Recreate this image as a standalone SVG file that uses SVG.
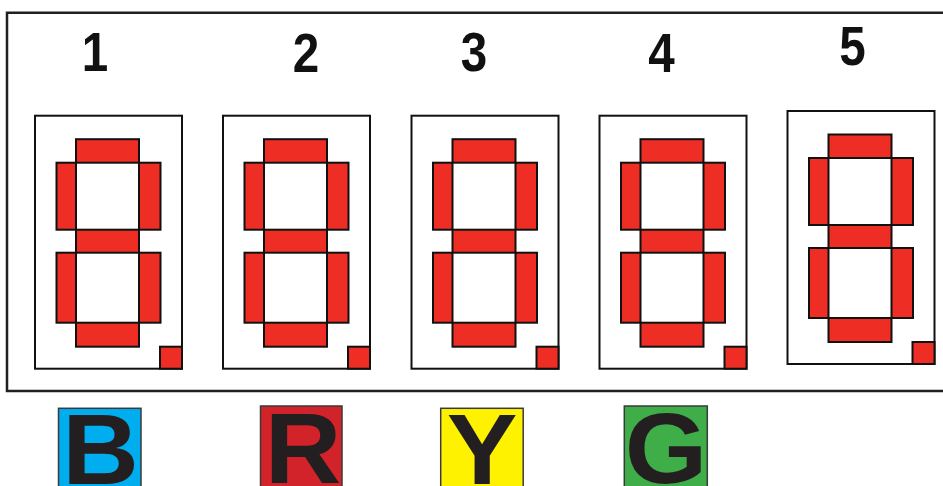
<svg xmlns="http://www.w3.org/2000/svg" xmlns:xlink="http://www.w3.org/1999/xlink" width="943" height="486" viewBox="0 0 943 486">
  <style>
    .frame { fill: none; stroke: #231f20; stroke-width: 2.5; }
    .box { fill: #ffffff; stroke: #111111; stroke-width: 2; }
    .seg { fill: #ee2e24; stroke: #111111; stroke-width: 2; }
    .num { font-family: "Liberation Sans", Arial, sans-serif; font-weight: bold; font-size: 56px; fill: #111111; text-anchor: middle; }
    .tag { stroke: #3a3a3a; stroke-width: 1.5; }
    .letter { font-family: "Liberation Sans", Arial, sans-serif; font-weight: bold; font-size: 101px; fill: #231f20; text-anchor: middle; }
  </style>
  <defs>
    <g id="display">
      <rect class="box" x="0" y="0" width="147" height="253"/>
      <rect class="seg" x="41" y="23.5" width="63" height="23.5"/>
      <rect class="seg" x="21.5" y="47" width="19.5" height="67"/>
      <rect class="seg" x="104" y="47" width="21.5" height="67"/>
      <rect class="seg" x="41" y="114" width="63" height="23"/>
      <rect class="seg" x="21.5" y="137" width="19.5" height="70"/>
      <rect class="seg" x="104" y="137" width="21.5" height="70"/>
      <rect class="seg" x="41" y="207" width="63" height="24"/>
      <rect class="seg" x="125" y="231" width="22" height="22"/>
    </g>
  </defs>
  <rect x="0" y="0" width="943" height="486" fill="#ffffff"/>
  <path class="frame" d="M 946 12.7 H 7 V 391 H 946"/>

  <g id="digit1">
    <text class="num" transform="translate(95,71) scale(0.85,1)">1</text>
    <use xlink:href="#display" href="#display" transform="translate(35,115.7)"/>
  </g>
  <g id="digit2">
    <text class="num" transform="translate(306,71.5) scale(0.85,1)">2</text>
    <use xlink:href="#display" href="#display" transform="translate(223,115.7)"/>
  </g>
  <g id="digit3">
    <text class="num" transform="translate(474,71) scale(0.85,1)">3</text>
    <use xlink:href="#display" href="#display" transform="translate(411.5,115.7)"/>
  </g>
  <g id="digit4">
    <text class="num" transform="translate(661.5,71.5) scale(0.85,1)">4</text>
    <use xlink:href="#display" href="#display" transform="translate(599.5,115.7)"/>
  </g>
  <g id="digit5">
    <text class="num" transform="translate(852.5,65) scale(0.85,1)">5</text>
    <use xlink:href="#display" href="#display" transform="translate(787.5,111)"/>
  </g>

  <g id="tagB">
    <rect class="tag" x="58.5" y="408.3" width="82.5" height="90" fill="#00aeef"/>
    <text class="letter" transform="translate(100.5,484) scale(1.05,1)">B</text>
  </g>
  <g id="tagR">
    <rect class="tag" x="260.5" y="406" width="81.5" height="90" fill="#d2232a"/>
    <text class="letter" transform="translate(303,483) scale(1.05,1)">R</text>
  </g>
  <g id="tagY">
    <rect class="tag" x="440.7" y="408.3" width="82.5" height="90" fill="#fff200"/>
    <text class="letter" transform="translate(482,484) scale(1.05,1)">Y</text>
  </g>
  <g id="tagG">
    <rect class="tag" x="624.3" y="406" width="83" height="90" fill="#3fae49"/>
    <text class="letter" transform="translate(666,483) scale(1.05,1)">G</text>
  </g>
  <g id="connectors"/>
</svg>
